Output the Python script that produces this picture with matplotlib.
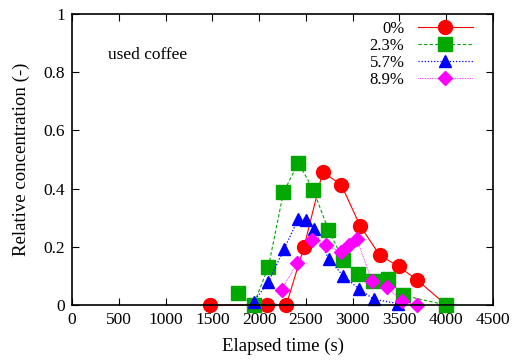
import matplotlib
matplotlib.use("Agg")
import matplotlib.pyplot as plt

plt.rcParams['font.family'] = ['Liberation Serif', 'DejaVu Serif']
plt.rcParams['font.size'] = 12.5

# time (s) and relative concentration for each moisture level
t_0 = [1480, 2080, 2290, 2480, 2680, 2880, 3080, 3290, 3490, 3690, 4000]
c_0 = [0.0, 0.0, 0.0, 0.200, 0.458, 0.412, 0.272, 0.171, 0.133, 0.086, 0.0]

t_23 = [1770, 1940, 2100, 2260, 2420, 2580, 2740, 2900, 3060, 3220, 3380, 3540, 4000]
c_23 = [0.040, 0.0, 0.132, 0.387, 0.489, 0.395, 0.259, 0.155, 0.105, 0.084, 0.088, 0.033, 0.0]

t_57 = [1940, 2100, 2265, 2420, 2505, 2585, 2745, 2900, 3065, 3225, 3485]
c_57 = [0.010, 0.080, 0.191, 0.297, 0.294, 0.263, 0.158, 0.100, 0.056, 0.020, 0.005]

t_89 = [2240, 2405, 2560, 2720, 2880, 2960, 3045, 3205, 3365, 3525, 3690]
c_89 = [0.053, 0.143, 0.223, 0.205, 0.181, 0.208, 0.226, 0.084, 0.063, 0.014, 0.0]

labels = ['0%', '2.3%', '5.7%', '8.9%']

fig = plt.figure(figsize=(5.13, 3.61), dpi=100)
ax = fig.add_axes([0.1404, 0.155, 0.8206, 0.806])

ax.plot(t_0, c_0, color='#ff0000', ls='-', lw=0.8, marker='o', ms=10, label=labels[0], clip_on=False)
ax.plot(t_23, c_23, color='#00a800', ls=(0, (3, 2)), lw=0.8, marker='s', ms=10, label=labels[1], clip_on=False)
ax.plot(t_57, c_57, color='#0000ff', ls=(0, (1, 1.5)), lw=0.9, marker='^', ms=9, label=labels[2], clip_on=False)
ax.plot(t_89, c_89, color='#ff00ff', ls=(0, (1, 1)), lw=0.6, marker='D', ms=7.5, label=labels[3], clip_on=False)

ax.set_xlim(0, 4500)
ax.set_ylim(0, 1)
ax.set_xticks(range(0, 4501, 500))
ax.set_yticks([0, 0.2, 0.4, 0.6, 0.8, 1])
ax.set_yticklabels(['0', '0.2', '0.4', '0.6', '0.8', '1'])
ax.tick_params(direction='in', top=True, right=True, length=5, width=0.8, pad=5)
for s in ax.spines.values():
    s.set_linewidth(1.2)

ax.set_xlabel('Elapsed time (s)', fontsize=13.5, labelpad=7)
ax.set_ylabel('Relative concentration (-)', fontsize=13.5, labelpad=10)
ax.text(380, 0.86, 'used coffee', fontsize=12.5, va='center')

leg = ax.legend(loc='upper right', bbox_to_anchor=(0.952, 0.976), markerfirst=False,
                frameon=False, handlelength=3.3, labelspacing=0.05, borderaxespad=0,
                borderpad=0, handletextpad=0.8, fontsize=12)
for col in leg._legend_handle_box.get_children():
    col.align = 'right'

fig.savefig('out.png', dpi=100)
